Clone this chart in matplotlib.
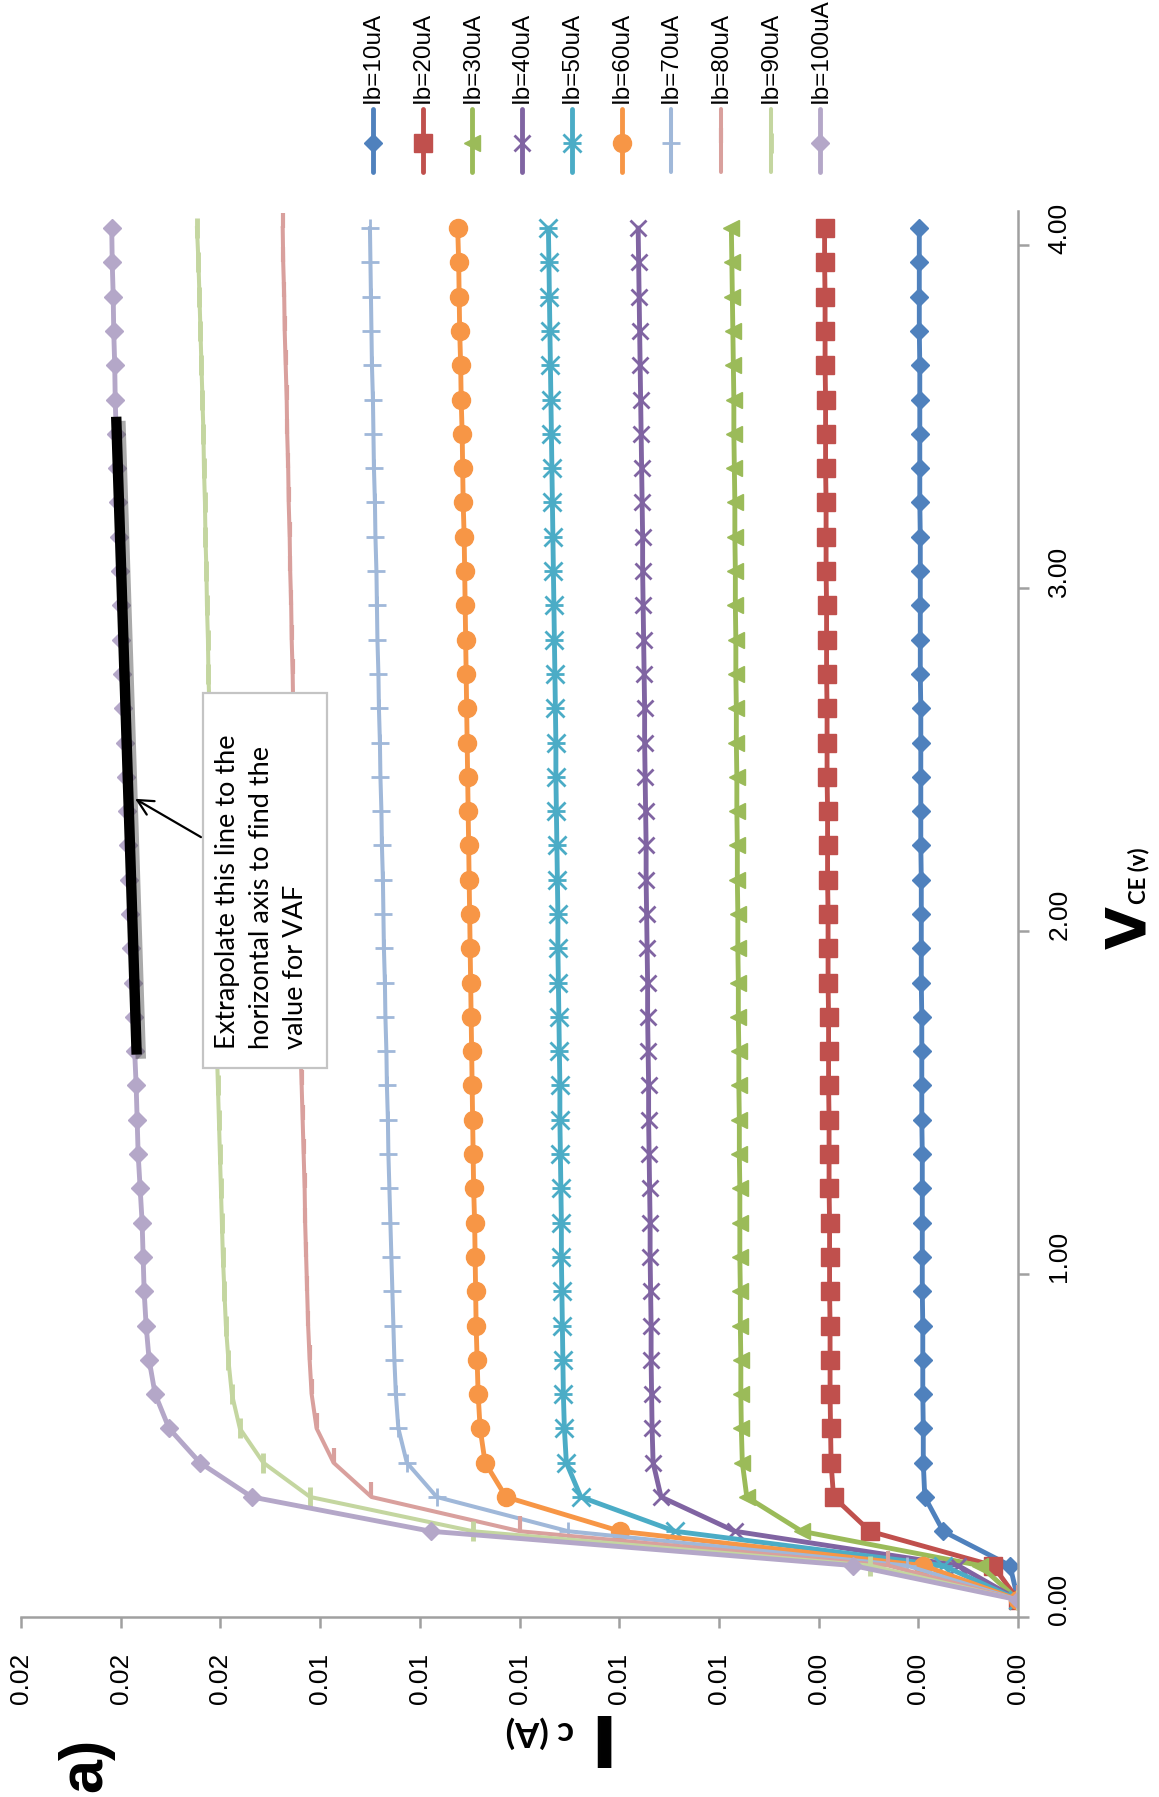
import numpy as np
import matplotlib
matplotlib.use('Agg')
import matplotlib.pyplot as plt
import matplotlib.patheffects as pe
from matplotlib.path import Path
from matplotlib.patches import Rectangle
from matplotlib.ticker import FixedLocator, FuncFormatter, NullFormatter

plt.rcParams['font.family'] = ['Liberation Sans', 'DejaVu Sans']

# V_CE categories (V)
vce = [0.0, 0.1, 0.2, 0.3, 0.4, 0.5, 0.6, 0.7, 0.8, 0.9,
       1.0, 1.1, 1.2, 1.3, 1.4, 1.5, 1.6, 1.7, 1.8, 1.9,
       2.0, 2.1, 2.2, 2.3, 2.4, 2.5, 2.6, 2.7, 2.8, 2.9,
       3.0, 3.1, 3.2, 3.3, 3.4, 3.5, 3.6, 3.7, 3.8, 3.9,
       4.0]

labels = ['Ib=10uA', 'Ib=20uA', 'Ib=30uA', 'Ib=40uA', 'Ib=50uA',
          'Ib=60uA', 'Ib=70uA', 'Ib=80uA', 'Ib=90uA', 'Ib=100uA']

# collector current in mA, one value per V_CE step
ic_10 = [0.00, 0.16, 1.50, 1.87, 1.90, 1.90, 1.91, 1.91, 1.91, 1.92,
         1.92, 1.92, 1.92, 1.92, 1.93, 1.93, 1.93, 1.93, 1.94, 1.94,
         1.94, 1.94, 1.95, 1.95, 1.95, 1.95, 1.95, 1.96, 1.96, 1.96,
         1.96, 1.96, 1.97, 1.97, 1.97, 1.97, 1.97, 1.98, 1.98, 1.98,
         1.98]
ic_20 = [0.00, 0.50, 2.97, 3.70, 3.75, 3.76, 3.77, 3.77, 3.77, 3.78,
         3.78, 3.78, 3.79, 3.79, 3.79, 3.80, 3.80, 3.80, 3.81, 3.81,
         3.81, 3.82, 3.82, 3.82, 3.83, 3.83, 3.83, 3.84, 3.84, 3.84,
         3.85, 3.85, 3.85, 3.86, 3.86, 3.86, 3.87, 3.87, 3.87, 3.88,
         3.88]
ic_30 = [0.00, 0.76, 4.34, 5.44, 5.53, 5.55, 5.56, 5.56, 5.57, 5.57,
         5.58, 5.58, 5.58, 5.59, 5.59, 5.60, 5.60, 5.61, 5.61, 5.62,
         5.62, 5.63, 5.63, 5.64, 5.64, 5.65, 5.65, 5.66, 5.66, 5.67,
         5.67, 5.68, 5.68, 5.69, 5.70, 5.70, 5.71, 5.72, 5.73, 5.74,
         5.75]
ic_40 = [0.00, 1.20, 5.68, 7.16, 7.32, 7.34, 7.35, 7.36, 7.36, 7.37,
         7.38, 7.38, 7.39, 7.40, 7.41, 7.41, 7.42, 7.43, 7.43, 7.44,
         7.45, 7.46, 7.46, 7.47, 7.48, 7.49, 7.49, 7.50, 7.51, 7.52,
         7.53, 7.53, 7.54, 7.55, 7.56, 7.57, 7.58, 7.59, 7.60, 7.61,
         7.62]
ic_50 = [0.00, 1.50, 6.88, 8.77, 9.06, 9.10, 9.12, 9.13, 9.14, 9.15,
         9.16, 9.16, 9.17, 9.18, 9.19, 9.19, 9.20, 9.21, 9.22, 9.23,
         9.23, 9.24, 9.25, 9.26, 9.27, 9.27, 9.28, 9.29, 9.30, 9.31,
         9.32, 9.33, 9.34, 9.35, 9.36, 9.37, 9.38, 9.39, 9.40, 9.41,
         9.42]
ic_60 = [0.00, 1.90, 7.98, 10.27, 10.69, 10.79, 10.83, 10.85, 10.87, 10.88,
         10.89, 10.90, 10.92, 10.93, 10.94, 10.95, 10.96, 10.97, 10.98, 10.99,
         11.00, 11.01, 11.02, 11.03, 11.04, 11.05, 11.06, 11.07, 11.08, 11.09,
         11.10, 11.11, 11.13, 11.14, 11.15, 11.17, 11.18, 11.20, 11.21, 11.22,
         11.24]
ic_70 = [0.00, 2.23, 9.02, 11.66, 12.26, 12.43, 12.48, 12.51, 12.53, 12.55,
         12.57, 12.59, 12.61, 12.63, 12.64, 12.66, 12.67, 12.69, 12.70, 12.72,
         12.73, 12.74, 12.76, 12.77, 12.79, 12.80, 12.82, 12.83, 12.85, 12.86,
         12.87, 12.89, 12.90, 12.92, 12.93, 12.94, 12.96, 12.97, 12.98, 12.99,
         13.00]
ic_80 = [0.00, 2.60, 9.99, 12.97, 13.73, 14.07, 14.17, 14.21, 14.24, 14.26,
         14.28, 14.30, 14.31, 14.33, 14.35, 14.37, 14.39, 14.40, 14.42, 14.43,
         14.45, 14.46, 14.48, 14.49, 14.51, 14.52, 14.54, 14.55, 14.57, 14.58,
         14.60, 14.61, 14.63, 14.64, 14.66, 14.67, 14.69, 14.71, 14.72, 14.74,
         14.75]
ic_90 = [0.00, 2.97, 10.93, 14.20, 15.14, 15.61, 15.77, 15.84, 15.89, 15.92,
         15.95, 15.97, 15.99, 16.01, 16.03, 16.05, 16.07, 16.08, 16.10, 16.11,
         16.13, 16.14, 16.16, 16.17, 16.19, 16.20, 16.22, 16.24, 16.25, 16.27,
         16.28, 16.30, 16.31, 16.33, 16.34, 16.36, 16.38, 16.40, 16.42, 16.44,
         16.47]
ic_100 = [0.00, 3.31, 11.78, 15.37, 16.41, 17.03, 17.31, 17.43, 17.49, 17.53,
          17.55, 17.57, 17.61, 17.65, 17.67, 17.69, 17.72, 17.74, 17.76, 17.79,
          17.81, 17.83, 17.85, 17.88, 17.90, 17.92, 17.95, 17.97, 17.99, 18.00,
          18.02, 18.04, 18.06, 18.07, 18.09, 18.11, 18.12, 18.14, 18.15, 18.17,
          18.18]
series = [ic_10, ic_20, ic_30, ic_40, ic_50, ic_60, ic_70, ic_80, ic_90, ic_100]

ic_ticks = [0.000, 0.002, 0.004, 0.006, 0.008, 0.010,
            0.012, 0.014, 0.016, 0.018, 0.020]

# hand drawn extrapolation line (mA, V) and the arrow pointing at it
vaf_ic = [18.09, 17.68]
vaf_vce = [3.45, 1.59]
arrow_head = (17.76, 2.34)
arrow_tail = (16.34, 2.22)

# excel style star: x with a bar through it
star = Path([(-1, -1), (1, 1), (-1, 1), (1, -1), (-1, 0), (1, 0)],
            [Path.MOVETO, Path.LINETO] * 3)

styles = [
    dict(color='#4F81BD', marker='D', ms=9, lw=3.5),
    dict(color='#C0504D', marker='s', ms=13, lw=3.5),
    dict(color='#9BBB59', marker='<', ms=12, lw=3.5),
    dict(color='#8064A2', marker='x', ms=12, lw=3.5, mew=2),
    dict(color='#4BACC6', marker=star, ms=13, lw=3.5, mew=2),
    dict(color='#F79646', marker='o', ms=13, lw=3.5),
    dict(color='#A0B8D9', marker='+', ms=13, lw=2.9, mew=2),
    dict(color='#D9A09D', marker=2, ms=11, lw=2.9, mew=3),
    dict(color='#C4D6A0', marker='|', ms=14, lw=2.9, mew=3.5),
    dict(color='#B4A7C8', marker='D', ms=9, lw=3.5),
]

W, H = 1159, 1797
fig = plt.figure(figsize=(W / 100, H / 100), dpi=100)
ax = fig.add_axes([21 / W, (H - 1617) / H, 997 / W, 1406 / H])


def cat_pos(v):
    # category axis: every point sits in the middle of its slot
    return v * 10 + 0.5


pos = [cat_pos(v) for v in vce]
for ic, st in zip(series, styles):
    ax.plot(np.array(ic) / 1000, pos, color=st['color'], lw=st['lw'],
            marker=st['marker'], ms=st['ms'], mew=st.get('mew', 1),
            mec=st['color'], mfc=st['color'])

ax.plot(np.array(vaf_ic) / 1000, [cat_pos(v) for v in vaf_vce],
        color='black', lw=7.5, solid_capstyle='butt', zorder=5,
        path_effects=[pe.SimpleLineShadow(offset=(3, -3), shadow_color='#444444', alpha=0.45),
                      pe.Normal()])
ax.annotate('', xy=(arrow_head[0] / 1000, cat_pos(arrow_head[1])),
            xytext=(arrow_tail[0] / 1000, cat_pos(arrow_tail[1])),
            arrowprops=dict(arrowstyle='->', lw=1.6, color='black', mutation_scale=28),
            zorder=6)

ax.set_xlim(0.020, 0.0)
ax.set_ylim(0, len(vce))
gray = '#A0A0A0'
for s in ['top', 'left']:
    ax.spines[s].set_visible(False)
for s in ['bottom', 'right']:
    ax.spines[s].set_color(gray)
    ax.spines[s].set_linewidth(1.8)

ax.set_xticks(ic_ticks)
ax.xaxis.set_major_formatter(FuncFormatter(lambda v, p: f'{v:.2f}'))
ax.tick_params(axis='x', direction='out', length=8, width=1.8, color=gray,
               pad=18, labelsize=19, labelrotation=90)

ax.yaxis.set_major_locator(FixedLocator([0, 10, 20, 30, 40]))
ax.yaxis.set_major_formatter(NullFormatter())
ax.yaxis.set_minor_locator(FixedLocator([cat_pos(v) for v in [0.0, 1.0, 2.0, 3.0, 4.0]]))
ax.yaxis.set_minor_formatter(FuncFormatter(lambda v, p: f'{(v - 0.5) / 10:.2f}'))
ax.tick_params(axis='y', which='major', direction='out', length=8, width=1.8,
               color=gray, left=False, right=True)
ax.tick_params(axis='y', which='minor', length=0, left=False, right=True,
               labelleft=False, labelright=True, labelsize=19, labelrotation=90, pad=21)
plt.setp(ax.yaxis.get_minorticklabels(), va='center')

# overlay in figure pixels for legend, titles and the note
lax = fig.add_axes([0, 0, 1, 1])
lax.set_xlim(0, W)
lax.set_ylim(H, 0)
lax.axis('off')

for i, (lab, st) in enumerate(zip(labels, styles)):
    x = 373 + i * 49.7
    lax.plot([x, x, x], [109, 143, 172], color=st['color'], lw=st['lw'],
             marker=st['marker'], ms=st['ms'], mew=st.get('mew', 1),
             mec=st['color'], mfc=st['color'], markevery=[1],
             solid_capstyle='round')
    lax.text(x, 103, lab, rotation=90, ha='center', va='bottom', fontsize=17.5)

lax.add_patch(Rectangle((203, 693), 124, 375, fc='white', ec='#C4C4C4', lw=1.6))
lax.text(215, 1049, 'Extrapolate this line to the\nhorizontal axis to find the\nvalue for VAF',
         rotation=90, rotation_mode='anchor', ha='left', va='top',
         fontsize=19.5, family='Lato', linespacing=1.45)

# axis titles
lax.text(1145, 906, 'V', rotation=90, rotation_mode='anchor', ha='right',
         va='baseline', fontsize=40, fontweight='bold', family='DejaVu Sans')
lax.text(1145, 904, 'CE (v)', rotation=90, rotation_mode='anchor', ha='left',
         va='baseline', fontsize=16, fontweight='bold', family='Lato')
lax.text(578, 1714, 'I', rotation=180, rotation_mode='anchor', ha='right',
         va='baseline', fontsize=52, fontweight='bold', family='DejaVu Sans')
lax.text(574, 1721, 'c (A)', rotation=180, rotation_mode='anchor', ha='left',
         va='baseline', fontsize=25, fontweight='bold', family='Lato')

lax.text(86, 1765, 'a)', rotation=90, ha='center', va='center',
         fontsize=44, fontweight='bold')

fig.savefig('out.png', dpi=100)
